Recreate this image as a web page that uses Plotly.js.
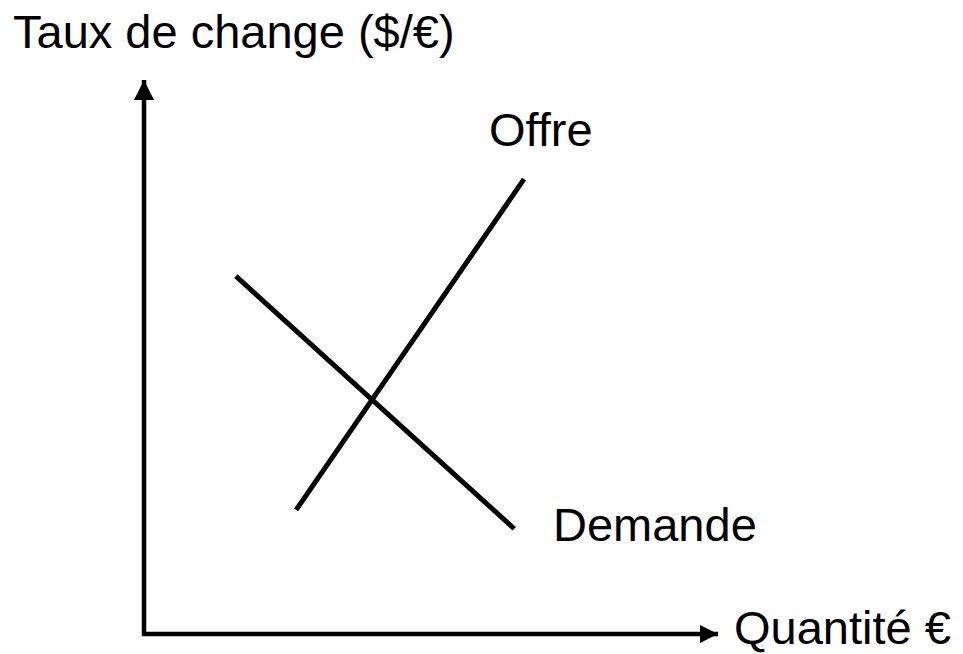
<!DOCTYPE html>
<html>
<head>
<meta charset="utf-8">
<script src="https://cdn.plot.ly/plotly-3.0.1.min.js"></script>
<style>html,body{margin:0;padding:0;background:#fff;}#chart{width:963px;height:654px;}</style>
</head>
<body>
<div id="chart"></div>
<script>
// Conceptual supply/demand diagram for the exchange rate ($/€)
const seriesNames = ["Offre", "Demande"];
const offreQ = [2.65, 6.62];
const offreRate = [2.24, 8.21];
const demandeQ = [1.60, 6.45];
const demandeRate = [6.46, 1.90];
const axisTitles = { x: "Quantité €", y: "Taux de change ($/€)" };
const axisMax = { q: 10, rate: 10 };

const lineStyle = { color: "#000000", width: 5 };
const FONT = "Liberation Sans, Arial, sans-serif";

const traces = [
  { x: offreQ, y: offreRate, mode: "lines", line: lineStyle, name: seriesNames[0], hoverinfo: "skip" },
  { x: demandeQ, y: demandeRate, mode: "lines", line: lineStyle, name: seriesNames[1], hoverinfo: "skip" },
  // axes
  { x: [0, 0, axisMax.q], y: [axisMax.rate, 0, 0], mode: "lines", line: { color: "#000", width: 4.5 }, hoverinfo: "skip" },
  { x: [0], y: [axisMax.rate], mode: "markers", marker: { symbol: "arrow-up", size: 20, color: "#000", line: { width: 0 } }, hoverinfo: "skip" },
  { x: [axisMax.q], y: [0], mode: "markers", marker: { symbol: "arrow-right", size: 18, color: "#000", line: { width: 0 } }, hoverinfo: "skip" }
];

const txtFont = { family: FONT, size: 47, color: "#000" };
const annotations = [
  { x: -2.32, y: 10.87, xref: "x", yref: "y", text: axisTitles.y, showarrow: false, xanchor: "left", yanchor: "middle", font: txtFont },
  { x: 10.24, y: 0.0, xref: "x", yref: "y", text: axisTitles.x, showarrow: false, xanchor: "left", yanchor: "middle", yshift: 7, font: txtFont },
  { x: 5.98, y: 9.10, xref: "x", yref: "y", text: seriesNames[0], showarrow: false, xanchor: "left", yanchor: "middle", font: txtFont },
  { x: 7.09, y: 1.97, xref: "x", yref: "y", text: seriesNames[1], showarrow: false, xanchor: "left", yanchor: "middle", font: txtFont }
];

const layout = {
  width: 963, height: 654,
  margin: { l: 0, r: 0, t: 0, b: 0, pad: 0 },
  paper_bgcolor: "#ffffff", plot_bgcolor: "#ffffff",
  showlegend: false,
  xaxis: { range: [-2.509, 14.268], visible: false, fixedrange: true },
  yaxis: { range: [-0.361, 11.444], visible: false, fixedrange: true },
  annotations: annotations
};

Plotly.newPlot("chart", traces, layout, { staticPlot: true, displayModeBar: false });
</script>
</body>
</html>
